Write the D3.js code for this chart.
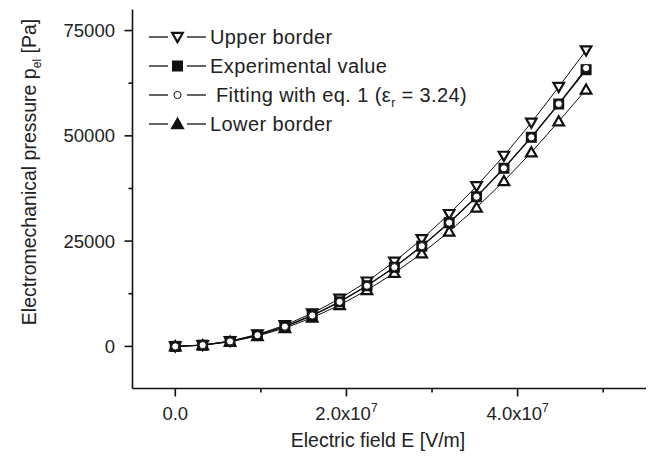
<!DOCTYPE html>
<html><head><meta charset="utf-8">
<script src="https://cdn.jsdelivr.net/npm/d3@7"></script>
<style>
body{margin:0;background:#fff;}
text{font-family:"Liberation Sans",Arial,sans-serif;fill:#222;}
</style></head>
<body><svg id="c" width="650" height="456"></svg>
<script>
const fieldE = [0, 3.2e6, 6.4e6, 9.6e6, 1.28e7, 1.6e7, 1.92e7, 2.24e7, 2.56e7, 2.88e7, 3.2e7, 3.52e7, 3.84e7, 4.16e7, 4.48e7, 4.8e7];
const upperBorder = [0, 315, 1260, 2830, 5030, 7860, 11310, 15400, 20120, 25460, 31430, 38030, 45260, 53120, 61610, 70300];
const experimental = [0, 290, 1180, 2650, 4690, 7330, 10580, 14400, 18790, 23800, 29360, 35540, 42300, 49650, 57560, 65700];
const fitting = [0, 294, 1175, 2644, 4700, 7344, 10575, 14394, 18800, 23794, 29375, 35544, 42300, 49644, 57575, 66094];
const lowerBorder = [0, 270, 1090, 2450, 4360, 6810, 9810, 13360, 17450, 22080, 27260, 32980, 39250, 46070, 53430, 61000];
const xMajorTicks = [0, 2e7, 4e7];
const xTickLabels = ["0.0", "2.0x10", "4.0x10"];
const xMinorTicks = [1e7, 3e7, 5e7];
const yMajorTicks = [0, 25000, 50000, 75000];
const yMinorTicks = [12500, 37500, 62500];

const svg = d3.select("#c");
const x = d3.scaleLinear().domain([-0.5e7, 5.5e7]).range([132.5, 646]);
const y = d3.scaleLinear().domain([-10000, 80000]).range([388.5, 9.5]);

const ax = svg.append("g").attr("stroke","#111").attr("stroke-width",1.6).attr("fill","none");
ax.append("line").attr("x1",x.range()[0]).attr("x2",x.range()[0]).attr("y1",y.range()[1]).attr("y2",y.range()[0]);
ax.append("line").attr("x1",x.range()[0]).attr("x2",x.range()[1]).attr("y1",y.range()[0]).attr("y2",y.range()[0]);
yMajorTicks.forEach(v=>ax.append("line").attr("x1",x.range()[0]-8).attr("x2",x.range()[0]).attr("y1",y(v)).attr("y2",y(v)));
yMinorTicks.forEach(v=>ax.append("line").attr("x1",x.range()[0]-4).attr("x2",x.range()[0]).attr("y1",y(v)).attr("y2",y(v)));
xMajorTicks.forEach(v=>ax.append("line").attr("x1",x(v)).attr("x2",x(v)).attr("y1",y.range()[0]).attr("y2",y.range()[0]+8));
xMinorTicks.forEach(v=>ax.append("line").attr("x1",x(v)).attr("x2",x(v)).attr("y1",y.range()[0]).attr("y2",y.range()[0]+4));

svg.selectAll(".yl").data(yMajorTicks).enter().append("text")
  .attr("x",115).attr("y",d=>y(d)+6.5).attr("text-anchor","end").attr("font-size",18.5).text(d=>d);
xMajorTicks.forEach((v,i)=>{
  const t = svg.append("text").attr("x",x(v)).attr("y",420).attr("text-anchor","middle").attr("font-size",18.5);
  t.append("tspan").text(xTickLabels[i]);
  if(i>0) t.append("tspan").attr("font-size",12).attr("dy",-8).text("7");
});
svg.append("text").attr("x",378).attr("y",447).attr("text-anchor","middle").attr("font-size",19.5).text("Electric field E [V/m]");
const yl = svg.append("text").attr("transform","translate(36,172) rotate(-90)").attr("text-anchor","middle").attr("font-size",19.5);
yl.append("tspan").text("Electromechanical pressure p");
yl.append("tspan").attr("font-size",12).attr("dy",5).text("el");
yl.append("tspan").attr("dy",-5).text(" [Pa]");

const series = [
  {vals:upperBorder, w:1},
  {vals:lowerBorder, w:1},
  {vals:experimental, w:1.4},
  {vals:fitting, w:1}
];
const line = d3.line().x((d,i)=>x(fieldE[i])).y(d=>y(d));
series.forEach(s=>svg.append("path").attr("d",line(s.vals)).attr("fill","none").attr("stroke","#111").attr("stroke-width",s.w));

const triSym = d3.symbol().type(d3.symbolTriangle).size(48);
function tri(g,cx,cy,flip,fill){
  g.append("path").attr("d",triSym()).attr("transform",`translate(${cx},${cy})${flip?" rotate(180)":""}`)
   .attr("fill",fill||"#fff").attr("stroke","#111").attr("stroke-width",2.2);
}
function sq(g,cx,cy){ g.append("rect").attr("x",cx-5.5).attr("y",cy-5.5).attr("width",11).attr("height",11).attr("fill","#111"); }
function circ(g,cx,cy){ g.append("circle").attr("cx",cx).attr("cy",cy).attr("r",3.6).attr("fill","#fff").attr("stroke","#111").attr("stroke-width",1); }

const mk = svg.append("g");
upperBorder.forEach((v,i)=>tri(mk,x(fieldE[i]),y(v)-1,true));
lowerBorder.forEach((v,i)=>tri(mk,x(fieldE[i]),y(v)+1,false));
experimental.forEach((v,i)=>sq(mk,x(fieldE[i]),y(v)));
fitting.forEach((v,i)=>circ(mk,x(fieldE[i]),y(v)));

const legRows = [
  {label:"Upper border", kind:"up"},
  {label:"Experimental value", kind:"sq"},
  {label:" Fitting with eq. 1 (", kind:"ci"},
  {label:"Lower border", kind:"lo"}
];
const lg = svg.append("g");
legRows.forEach((r,i)=>{
  const cy = 37 + i*29;
  lg.append("line").attr("x1",149).attr("x2",168).attr("y1",cy).attr("y2",cy).attr("stroke","#111").attr("stroke-width",1.3);
  lg.append("line").attr("x1",187).attr("x2",206).attr("y1",cy).attr("y2",cy).attr("stroke","#111").attr("stroke-width",1.3);
  if(r.kind==="up") tri(lg,177.5,cy-1,true);
  if(r.kind==="lo") tri(lg,177.5,cy+1,false,"#111");
  if(r.kind==="sq") sq(lg,177.5,cy);
  if(r.kind==="ci") circ(lg,177.5,cy);
  const t = lg.append("text").attr("x",210).attr("y",cy+7).attr("font-size",20).attr("letter-spacing",0.4).attr("xml:space","preserve");
  t.append("tspan").text(r.label);
  if(r.kind==="ci"){
    t.append("tspan").text("ε");
    t.append("tspan").attr("font-size",12).attr("dy",5).text("r");
    t.append("tspan").attr("dy",-5).text(" = 3.24)");
  }
});
</script></body></html>
